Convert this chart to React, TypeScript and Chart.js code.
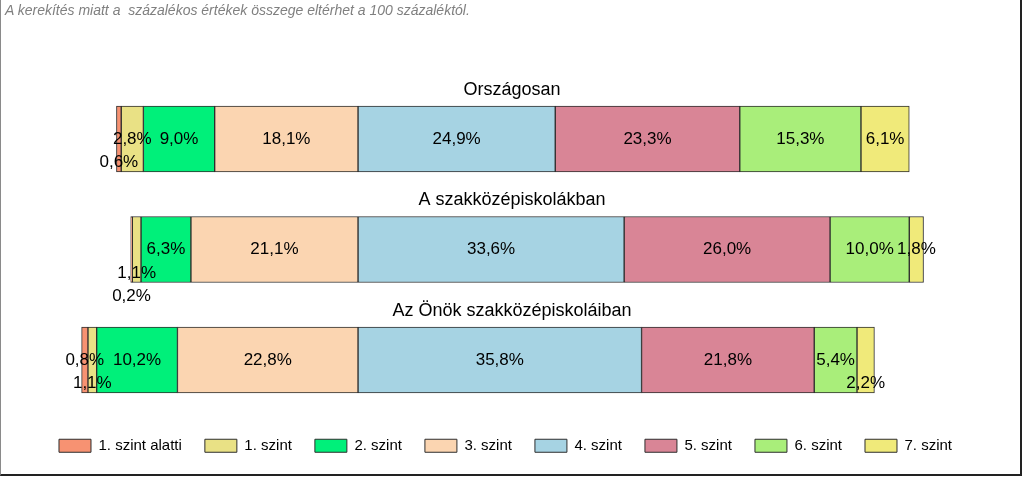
import React, { useEffect, useRef } from "react";
import { Chart, registerables } from "chart.js";

Chart.register(...registerables);

const groups = ["Országosan", "A szakközépiskolákban", "Az Önök szakközépiskoláiban"];
const levels = ["1. szint alatti", "1. szint", "2. szint", "3. szint", "4. szint", "5. szint", "6. szint", "7. szint"];
const orszagosan = [0.6, 2.8, 9.0, 18.1, 24.9, 23.3, 15.3, 6.1];
const szakkozep = [0.2, 1.1, 6.3, 21.1, 33.6, 26.0, 10.0, 1.8];
const onok = [0.8, 1.1, 10.2, 22.8, 35.8, 21.8, 5.4, 2.2];
const groupValues = [orszagosan, szakkozep, onok];
const colors = ["#F79272", "#E9E185", "#00F07A", "#FBD5B1", "#A6D3E3", "#D98596", "#A9EE7A", "#F0EA7A"];
const note = "A kerekítés miatt a  százalékos értékek összege eltérhet a 100 százaléktól.";
const X_MIN = -42.68;
const X_MAX = 79.92;
const NEGATIVE_COUNT = 4; // levels below the centre line

const FONT = "'Liberation Sans', Arial, sans-serif";

function fmt(v: number) {
  return v.toFixed(1).replace(".", ",") + "%";
}

// floating bar ranges: levels 0..3 grow leftwards from 0 (3. szint nearest), 4..7 grow rightwards
function buildRange(levelIndex: number, vals: number[]): [number, number] {
  if (levelIndex < NEGATIVE_COUNT) {
    let end = 0;
    for (let k = NEGATIVE_COUNT - 1; k > levelIndex; k--) end -= vals[k];
    return [end - vals[levelIndex], end];
  }
  let start = 0;
  for (let k = NEGATIVE_COUNT; k < levelIndex; k++) start += vals[k];
  return [start, start + vals[levelIndex]];
}

const labelPlugin = {
  id: "segLabels",
  afterDatasetsDraw(chart: any) {
    const ctx = chart.ctx;
    ctx.save();
    // group titles
    ctx.font = `18px ${FONT}`;
    ctx.fillStyle = "#000";
    ctx.textAlign = "center";
    ctx.textBaseline = "middle";
    const meta0 = chart.getDatasetMeta(0);
    groups.forEach((g, gi) => {
      const el = meta0.data[gi];
      ctx.fillText(g, chart.width / 2, el.y - 49);
    });
    // segment labels
    ctx.font = `17px ${FONT}`;
    const step = 23.5;
    const pad = 2;
    groups.forEach((g, gi) => {
      const placed: Array<Array<[number, number]>> = [];
      const order = [3, 2, 1, 0, 4, 5, 6, 7];
      order.forEach((li) => {
        const el = chart.getDatasetMeta(li).data[gi];
        const cx = (el.x + el.base) / 2;
        const txt = fmt(groupValues[gi][li]);
        const w = ctx.measureText(txt).width;
        const a = cx - w / 2;
        const b = cx + w / 2;
        let lvl = 0;
        while (true) {
          const list = placed[lvl] || [];
          const hit = list.some(([p, q]) => a < q + pad && b > p - pad);
          if (!hit) break;
          lvl++;
        }
        if (!placed[lvl]) placed[lvl] = [];
        placed[lvl].push([a, b]);
        ctx.fillText(txt, cx, el.y + lvl * step);
      });
    });
    ctx.restore();
  },
};

export default function App() {
  const ref = useRef<HTMLCanvasElement>(null);
  useEffect(() => {
    if (!ref.current) return;
    const datasets = levels.map((name, li) => ({
      label: name,
      data: groupValues.map((vals) => buildRange(li, vals)),
      backgroundColor: colors[li],
      borderColor: "#2e2e2e",
      borderWidth: 1,
      borderSkipped: false,
      barThickness: 66,
      grouped: false,
    }));
    const chart = new Chart(ref.current, {
      type: "bar",
      data: { labels: groups, datasets },
      options: {
        indexAxis: "y",
        animation: false,
        responsive: false,
        layout: { padding: { top: 83.75, bottom: 14.75, left: 20, right: 33 } },
        scales: {
          x: { min: X_MIN, max: X_MAX, display: false },
          y: { display: false },
        },
        plugins: {
          tooltip: { enabled: false },
          legend: {
            position: "bottom",
            labels: {
              boxWidth: 32,
              boxHeight: 13,
              padding: 23,
              color: "#000",
              font: { size: 15, family: FONT },
            },
          },
        },
      },
      plugins: [labelPlugin],
    } as any);
    return () => chart.destroy();
  }, []);

  return (
    <div style={{ position: "absolute", left: 0, top: 0, width: 1024, height: 478, background: "#fff" }}>
      <canvas ref={ref} width={1024} height={478} style={{ position: "absolute", left: 0, top: 0 }} />
      <div
        style={{
          position: "absolute",
          left: 5,
          top: 2,
          fontFamily: FONT,
          fontStyle: "italic",
          fontSize: 14,
          color: "#808080",
          whiteSpace: "pre",
          lineHeight: "16px",
        }}
      >
        {note}
      </div>
      <div
        style={{
          position: "absolute",
          left: 0,
          top: 0,
          width: 1019,
          height: 474,
          borderLeft: "1px solid #8a8a8a",
          borderRight: "2px solid #222",
          borderBottom: "2px solid #222",
          pointerEvents: "none",
        }}
      />
    </div>
  );
}
